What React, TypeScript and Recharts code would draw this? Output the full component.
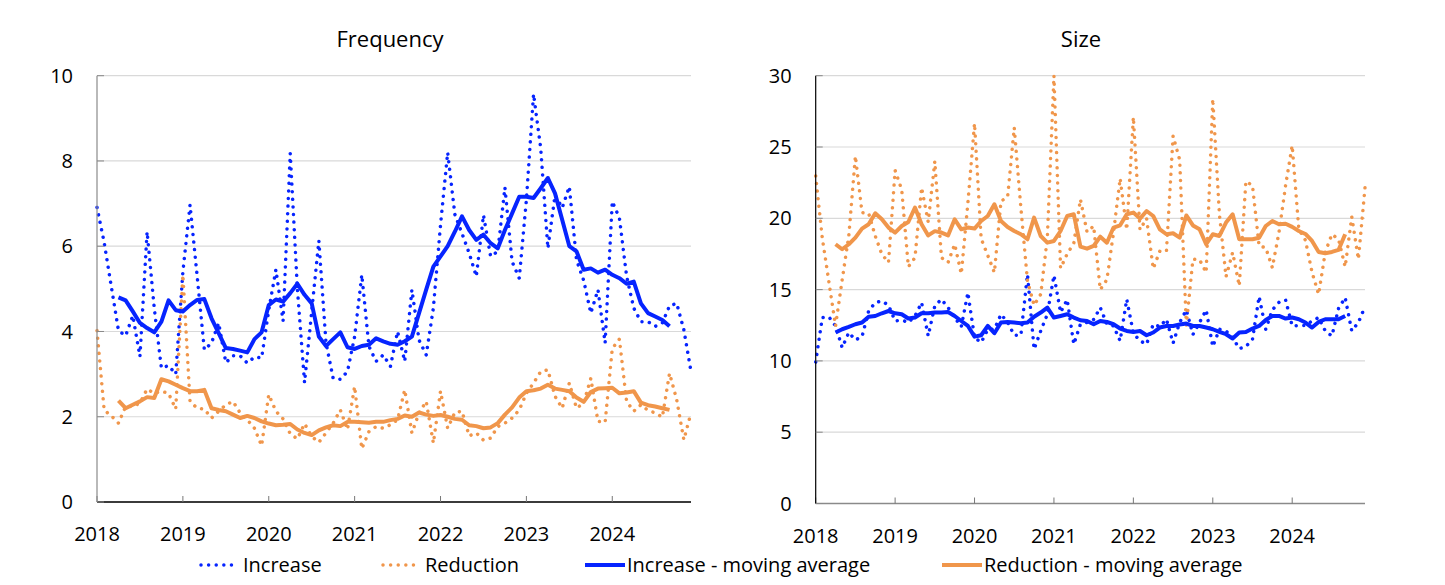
import { LineChart, Line, XAxis, YAxis, CartesianGrid } from 'recharts';

// monthly series, Jan 2018 .. Dec 2024 (one row per year)
const years = ['2018', '2019', '2020', '2021', '2022', '2023', '2024'];

const incFreq = [
  6.91, 6.09, 5.05, 4.02, 3.9, 4.37, 3.41, 6.34, 4.55, 3.14, 3.2, 3.0,
  5.4, 6.97, 5.29, 3.57, 3.73, 4.2, 3.27, 3.43, 3.43, 3.26, 3.4, 3.38,
  4.5, 5.45, 4.25, 8.18, 5.0, 2.8, 4.47, 6.13, 3.73, 2.9, 2.88, 3.06,
  3.88, 5.33, 3.65, 3.3, 3.45, 3.18, 4.0, 3.3, 4.98, 3.8, 3.45, 4.55,
  6.5, 8.2, 6.75, 6.3, 5.84, 5.29, 6.73, 5.76, 5.88, 7.38, 5.64, 5.25,
  7.09, 9.57, 8.3, 5.95, 7.2, 6.9, 7.4, 5.68, 5.2, 4.43, 4.98, 3.73,
  7.05, 6.66, 5.3, 4.55, 4.23, 4.23, 4.12, 4.2, 4.6, 4.66, 4.04, 3.06,
];

const redFreq = [
  4.02, 2.16, 2.02, 1.85, 2.24, 2.24, 2.32, 2.65, 2.55, 2.6, 2.55, 2.18,
  5.33, 2.36, 2.2, 2.18, 1.97, 2.13, 2.28, 2.36, 2.09, 1.93, 1.73, 1.32,
  2.52, 2.13, 1.95, 1.6, 1.48, 1.84, 1.54, 1.4, 1.62, 1.85, 2.16, 1.7,
  2.71, 1.25, 1.65, 1.77, 1.73, 1.81, 1.93, 2.63, 1.62, 2.09, 2.36, 1.38,
  2.6, 1.73, 2.1, 2.13, 1.55, 1.62, 1.45, 1.5, 1.77, 1.85, 1.97, 2.16,
  2.55, 2.79, 3.06, 3.1, 2.48, 2.2, 2.79, 2.2, 2.32, 2.9, 1.89, 1.87,
  3.6, 3.82, 2.36, 2.13, 2.28, 2.15, 2.09, 1.99, 3.02, 2.4, 1.46, 2.09,
];

const incFreqAvg = [
  null, null, null, 4.8, 4.73, 4.47, 4.2, 4.08, 3.98, 4.23, 4.73, 4.5,
  4.47, 4.62, 4.74, 4.76, 4.31, 3.96, 3.61, 3.59, 3.55, 3.51, 3.82, 3.98,
  4.62, 4.75, 4.7, 4.9, 5.12, 4.86, 4.66, 3.88, 3.66, 3.82, 3.98, 3.63,
  3.59, 3.66, 3.69, 3.84, 3.77, 3.71, 3.69, 3.77, 3.88, 4.43, 4.98, 5.52,
  5.76, 6.0, 6.34, 6.7, 6.38, 6.15, 6.27, 6.07, 5.95, 6.38, 6.77, 7.16,
  7.16, 7.13, 7.36, 7.6, 7.24, 6.62, 6.0, 5.88, 5.45, 5.48, 5.38, 5.45,
  5.33, 5.25, 5.12, 5.17, 4.66, 4.43, 4.35, 4.27, 4.12, null, null, null,
];

const redFreqAvg = [
  null, null, null, 2.38, 2.2, 2.28, 2.36, 2.46, 2.44, 2.88, 2.83, 2.75,
  2.67, 2.6, 2.6, 2.63, 2.2, 2.16, 2.13, 2.05, 1.97, 2.02, 1.97, 1.89,
  1.84, 1.8, 1.81, 1.83, 1.7, 1.62, 1.57, 1.68, 1.75, 1.8, 1.78, 1.88,
  1.88, 1.87, 1.86, 1.88, 1.88, 1.92, 1.95, 2.03, 2.0, 2.1, 2.05, 2.02,
  2.04, 2.0, 1.95, 1.93, 1.8, 1.78, 1.73, 1.75, 1.85, 2.05, 2.22, 2.45,
  2.6, 2.62, 2.66, 2.75, 2.66, 2.63, 2.6, 2.45, 2.35, 2.58, 2.66, 2.67,
  2.68, 2.55, 2.57, 2.6, 2.33, 2.27, 2.24, 2.2, 2.16, null, null, null,
];

const incSize = [
  9.93, 13.04, 13.08, 12.45, 10.93, 11.99, 11.47, 11.7, 13.5, 14.09, 14.2, 13.9,
  12.8, 12.87, 12.69, 13.15, 14.09, 11.75, 13.86, 14.32, 13.74, 13.04, 12.4, 14.79,
  11.64, 11.29, 12.2, 12.22, 13.27, 12.7, 11.8, 11.8, 16.07, 10.82, 12.1, 13.27,
  16.0, 13.4, 14.3, 11.17, 12.57, 12.7, 12.9, 13.74, 12.57, 12.45, 11.4, 14.32,
  11.95, 11.4, 11.17, 12.57, 12.4, 12.92, 11.24, 12.69, 13.57, 11.85, 12.69, 13.57,
  11.0, 12.22, 12.1, 11.64, 10.86, 11.0, 11.52, 14.51, 12.22, 13.57, 14.1, 14.28,
  12.45, 12.48, 12.48, 12.8, 13.04, 12.1, 11.75, 13.67, 14.44, 12.1, 12.69, 13.81,
];

const redSize = [
  22.97, 18.6, 15.54, 12.45, 15.7, 18.76, 24.37, 20.4, 20.35, 18.76, 17.48, 16.9,
  23.36, 22.0, 16.6, 17.24, 22.15, 19.74, 24.0, 17.24, 16.9, 18.18, 16.1, 21.1,
  26.66, 18.57, 17.4, 16.2, 21.2, 21.5, 26.36, 20.75, 15.6, 13.9, 14.67, 18.64,
  30.0, 16.5, 17.5, 18.25, 21.33, 19.04, 19.46, 15.0, 15.7, 19.0, 22.8, 19.2,
  27.1, 19.2, 20.0, 16.47, 17.7, 17.7, 25.77, 24.1, 12.5, 17.13, 17.1, 16.2,
  28.39, 20.3, 15.9, 17.6, 15.26, 22.6, 22.3, 18.06, 17.94, 16.54, 19.0, 22.3,
  25.1, 19.23, 18.46, 16.2, 14.67, 17.64, 18.88, 18.53, 16.6, 20.1, 17.13, 22.15,
];

const incSizeAvg = [
  null, null, null, 11.99, 12.22, 12.38, 12.57, 12.69, 13.1, 13.15, 13.34, 13.5,
  13.34, 13.27, 12.97, 13.04, 13.34, 13.34, 13.39, 13.39, 13.43, 13.15, 12.8, 12.45,
  11.7, 11.8, 12.45, 11.94, 12.69, 12.73, 12.69, 12.64, 12.69, 13.1, 13.39, 13.74,
  13.04, 13.15, 13.27, 13.04, 12.85, 12.8, 12.57, 12.8, 12.73, 12.57, 12.27, 12.1,
  12.03, 12.1, 11.8, 11.99, 12.34, 12.45, 12.45, 12.55, 12.62, 12.45, 12.45, 12.34,
  12.22, 12.03, 11.87, 11.57, 11.99, 12.03, 12.27, 12.45, 12.87, 13.15, 13.15, 12.97,
  13.04, 12.92, 12.69, 12.34, 12.73, 12.92, 12.92, 12.92, 13.15, null, null, null,
];

const redSizeAvg = [
  null, null, null, 18.18, 17.83, 18.18, 18.64, 19.28, 19.58, 20.35, 19.93, 19.35,
  19.0, 19.46, 19.74, 20.75, 19.58, 18.8, 19.1, 19.0, 18.8, 19.93, 19.23, 19.35,
  19.28, 19.81, 20.16, 20.98, 19.81, 19.39, 19.11, 18.88, 18.53, 20.05, 18.76, 18.29,
  18.41, 19.11, 20.16, 20.28, 18.01, 17.87, 18.06, 18.71, 18.29, 19.35, 19.51, 20.28,
  20.4, 19.98, 20.51, 20.16, 19.23, 18.88, 18.95, 18.64, 20.2, 19.5, 19.23, 18.18,
  18.88, 18.76, 19.7, 20.28, 18.53, 18.53, 18.53, 18.64, 19.46, 19.81, 19.58, 19.62,
  19.4, 19.11, 18.9, 18.41, 17.64, 17.55, 17.64, 17.78, 18.88, null, null, null,
];

const freqTicks = [0, 2, 4, 6, 8, 10];
const sizeTicks = [0, 5, 10, 15, 20, 25, 30];
const legendLabels = ['Increase', 'Reduction', 'Increase - moving average', 'Reduction - moving average'];

const BLUE = '#0624ff';
const ORANGE = '#f0964b';
const FONT = '"Open Sans", sans-serif';
const DOTS = '0.01 7.6';
const yearTicks = years.map((_, k) => k * 12);

type Row = { m: number; inc: number; red: number; incAvg: number | null; redAvg: number | null };

function buildRows(inc: number[], red: number[], incAvg: (number | null)[], redAvg: (number | null)[]): Row[] {
  return inc.map((v, m) => ({ m, inc: v, red: red[m], incAvg: incAvg[m], redAvg: redAvg[m] }));
}

const freqRows = buildRows(incFreq, redFreq, incFreqAvg, redFreqAvg);
const sizeRows = buildRows(incSize, redSize, incSizeAvg, redSizeAvg);

const tickText = { fill: '#000', fontSize: 20, fontFamily: FONT };

interface PanelProps {
  left: number;
  width: number;
  right: number;
  yAxisWidth: number;
  xAxisHeight: number;
  rows: Row[];
  yTicks: number[];
  xAxisColor: string;
  yAxisColor: string;
}

function Panel(p: PanelProps) {
  const yMax = p.yTicks[p.yTicks.length - 1];
  return (
    <div style={{ position: 'absolute', left: p.left, top: 0 }}>
      <LineChart
        width={p.width}
        height={585}
        data={p.rows}
        margin={{ top: 75.7, right: p.right, bottom: 0, left: 0 }}
      >
        <CartesianGrid vertical={false} stroke="#d9d9d9" strokeWidth={1.2} />
        <XAxis
          type="number"
          dataKey="m"
          domain={[0, 83]}
          ticks={yearTicks}
          interval={0}
          tickFormatter={(v: number) => years[Math.round(v / 12)]}
          height={p.xAxisHeight}
          tickSize={-6}
          tickMargin={31}
          axisLine={{ stroke: p.xAxisColor, strokeWidth: 1.5 }}
          tickLine={{ stroke: '#777' }}
          tick={tickText}
        />
        <YAxis
          type="number"
          domain={[0, yMax]}
          ticks={p.yTicks}
          interval={0}
          width={p.yAxisWidth}
          tickSize={-7}
          tickMargin={31}
          axisLine={{ stroke: p.yAxisColor, strokeWidth: 1.2 }}
          tickLine={{ stroke: '#888' }}
          tick={tickText}
        />
        <Line dataKey="inc" stroke={BLUE} strokeWidth={3.5} strokeDasharray={DOTS} strokeLinecap="round"
          dot={false} activeDot={false} isAnimationActive={false} />
        <Line dataKey="red" stroke={ORANGE} strokeWidth={3.5} strokeDasharray={DOTS} strokeLinecap="round"
          dot={false} activeDot={false} isAnimationActive={false} />
        <Line dataKey="incAvg" stroke={BLUE} strokeWidth={4} strokeLinejoin="round"
          dot={false} activeDot={false} isAnimationActive={false} />
        <Line dataKey="redAvg" stroke={ORANGE} strokeWidth={4} strokeLinejoin="round"
          dot={false} activeDot={false} isAnimationActive={false} />
      </LineChart>
    </div>
  );
}

function Swatch({ color, dotted }: { color: string; dotted: boolean }) {
  return (
    <svg width={44} height={12} style={{ display: 'block' }}>
      <line x1={3} y1={6} x2={dotted ? 40 : 43} y2={6} stroke={color}
        strokeWidth={dotted ? 3.5 : 4} strokeDasharray={dotted ? DOTS : undefined}
        strokeLinecap={dotted ? 'round' : 'butt'} />
    </svg>
  );
}

const legendColors = [BLUE, ORANGE, BLUE, ORANGE];
const legendLeft = [198, 380, 582, 939];

export default function App() {
  return (
    <div style={{ position: 'absolute', left: 0, top: 0, width: 1445, height: 585, background: '#fff', fontFamily: FONT }}>
      <Panel left={0} width={720} right={29} yAxisWidth={97} xAxisHeight={83}
        rows={freqRows} yTicks={freqTicks} xAxisColor="#000" yAxisColor="#8a8a8a" />
      <Panel left={720} width={725} right={80} yAxisWidth={95.7} xAxisHeight={81.5}
        rows={sizeRows} yTicks={sizeTicks} xAxisColor="#8a8a8a" yAxisColor="#000" />

      <div style={{ position: 'absolute', left: 290, top: 27, width: 200, textAlign: 'center', fontSize: 22, lineHeight: '22px' }}>
        Frequency
      </div>
      <div style={{ position: 'absolute', left: 981, top: 27, width: 200, textAlign: 'center', fontSize: 22, lineHeight: '22px' }}>
        Size
      </div>

      {legendLabels.map((label, k) => (
        <div key={label} style={{ position: 'absolute', left: legendLeft[k], top: 553, height: 24, display: 'flex', alignItems: 'center' }}>
          <Swatch color={legendColors[k]} dotted={k < 2} />
          <span style={{ fontSize: 20, lineHeight: '20px', marginLeft: 1, whiteSpace: 'nowrap' }}>{label}</span>
        </div>
      ))}
    </div>
  );
}
